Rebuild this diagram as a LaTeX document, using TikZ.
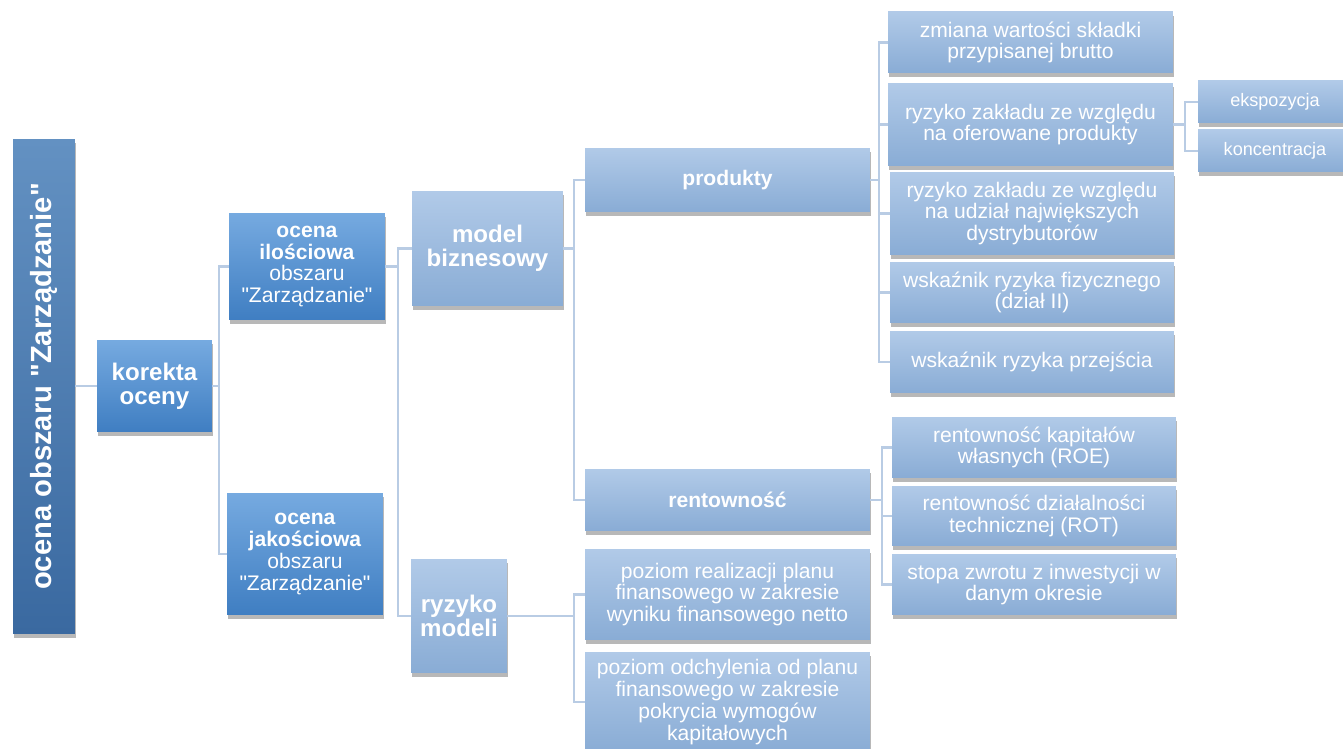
\documentclass[tikz,border=0pt]{standalone}
\usepackage{fontspec}
\setmainfont{Liberation Sans}
\usetikzlibrary{calc,positioning,shadows}
\definecolor{rootTop}{HTML}{6391C2}
\definecolor{rootBot}{HTML}{3A69A0}
\definecolor{midTop}{HTML}{76AAE0}
\definecolor{midBot}{HTML}{3F7EC2}
\definecolor{lightTop}{HTML}{B1CAE8}
\definecolor{lightBot}{HTML}{89ACD5}
\definecolor{connLine}{HTML}{B9CCE4}
\tikzset{%
	boxbase/.style  = {rectangle, inner sep=0pt, text=white, align=center,
	                   drop shadow={shadow xshift=0.4pt, shadow yshift=-2.2pt, opacity=0.28, fill=black}},
	rootbox/.style  = {boxbase, rotate=90, top color=rootTop, bottom color=rootBot,
	                   font=\bfseries\fontsize{16.6}{18}\selectfont}, % vertical bar
	midbox/.style   = {boxbase, top color=midTop, bottom color=midBot,
	                   font=\fontsize{12}{12.4}\selectfont},
	lightbox/.style = {boxbase, top color=lightTop, bottom color=lightBot,
	                   font=\fontsize{12}{12.4}\selectfont},
	bigtext/.style  = {font=\bfseries\fontsize{13.7}{13.7}\selectfont},
	smalltext/.style= {font=\fontsize{10.3}{11}\selectfont},
	conn/.style     = {draw=connLine, line width=1.2pt},
}

\begin{document}
\begin{tikzpicture}[x=0.02cm,y=-0.02cm]
	\useasboundingbox (0,0) rectangle (1343,749);
	% level 0 and 1
	\node[rootbox, minimum width=9.9cm, minimum height=1.24cm] (root) at (44,386.5) {ocena obszaru \textquotedbl Zarządzanie\textquotedbl};
	\node[midbox, bigtext, minimum width=2.3cm, minimum height=1.84cm] (korekta) at (154.5,386) {korekta\\oceny};
	% level 2
	\node[midbox, minimum width=3.12cm, minimum height=2.14cm] (ilo) at (307,266.5) {\textbf{ocena}\\\textbf{ilościowa}\\obszaru\\\textquotedbl Zarządzanie\textquotedbl};
	\node[midbox, minimum width=3.12cm, minimum height=2.44cm] (jak) at (305,554) {\textbf{ocena}\\\textbf{jakościowa}\\obszaru\\\textquotedbl Zarządzanie\textquotedbl};
	% level 3
	\node[lightbox, bigtext, minimum width=3.02cm, minimum height=2.3cm] (model) at (487.5,248.5) {model\\biznesowy};
	\node[lightbox, bigtext, minimum width=1.92cm, minimum height=2.28cm] (ryzm) at (459,616) {ryzyko\\modeli};
	% level 4
	\node[lightbox, font=\bfseries\fontsize{12}{12.4}\selectfont, minimum width=5.7cm, minimum height=1.28cm] (prod) at (727.5,180) {produkty};
	\node[lightbox, font=\bfseries\fontsize{12}{12.4}\selectfont, minimum width=5.7cm, minimum height=1.24cm] (rent) at (727.5,500) {rentowność};
	\node[lightbox, minimum width=5.7cm, minimum height=1.82cm] (poz1) at (727.5,594.5) {poziom realizacji planu\\finansowego w zakresie\\wyniku finansowego netto};
	\node[lightbox, minimum width=5.7cm, minimum height=2.0cm] (poz2) at (727.5,702) {poziom odchylenia od planu\\finansowego w zakresie\\pokrycia wymogów\\kapitałowych};
	% level 5
	\node[lightbox, minimum width=5.7cm, minimum height=1.22cm] (zmiana) at (1030.5,42.5) {zmiana wartości składki\\przypisanej brutto};
	\node[lightbox, minimum width=5.7cm, minimum height=1.66cm] (rzprod) at (1030.5,124.5) {ryzyko zakładu ze względu\\na oferowane produkty};
	\node[lightbox, minimum width=5.68cm, minimum height=1.66cm] (rzdystr) at (1032,213.5) {ryzyko zakładu ze względu\\na udział największych\\dystrybutorów};
	\node[lightbox, minimum width=5.68cm, minimum height=1.22cm] (wfiz) at (1032,292.5) {wskaźnik ryzyka fizycznego\\(dział II)};
	\node[lightbox, minimum width=5.68cm, minimum height=1.24cm] (wprz) at (1032,362) {wskaźnik ryzyka przejścia};
	\node[lightbox, minimum width=5.68cm, minimum height=1.22cm] (roe) at (1034,447.5) {rentowność kapitałów\\własnych (ROE)};
	\node[lightbox, minimum width=5.68cm, minimum height=1.2cm] (rot) at (1034,516) {rentowność działalności\\technicznej (ROT)};
	\node[lightbox, minimum width=5.68cm, minimum height=1.22cm] (stopa) at (1034,584.5) {stopa zwrotu z inwestycji w\\danym okresie};
	% level 6
	\node[lightbox, smalltext, minimum width=3.08cm, minimum height=0.84cm] (eksp) at (1275,102) {ekspozycja};
	\node[lightbox, smalltext, minimum width=3.08cm, minimum height=0.84cm] (konc) at (1275,151) {koncentracja};

	\draw[conn] (root.south |- korekta.west) -- (korekta.west);
	\foreach \c in {ilo,jak} \draw[conn] (korekta.east) -- ++(7,0) |- (\c.west);
	\foreach \c in {model,ryzm} \draw[conn] (ilo.east) -- ++(13,0) |- (\c.west);
	\foreach \c in {prod,rent} \draw[conn] (model.east) -- ++(11,0) |- (\c.west);
	\foreach \c in {poz1,poz2} \draw[conn] (ryzm.east) -- ++(67,0) |- (\c.west);
	\foreach \c in {zmiana,rzprod,rzdystr,wfiz,wprz} \draw[conn] (prod.east) -- ++(9,0) |- (\c.west);
	\foreach \c in {roe,rot,stopa} \draw[conn] (rent.east) -- ++(12,0) |- (\c.west);
	\foreach \c in {eksp,konc} \draw[conn] (rzprod.east) -- ++(12,0) |- (\c.west);
\end{tikzpicture}
\end{document}
